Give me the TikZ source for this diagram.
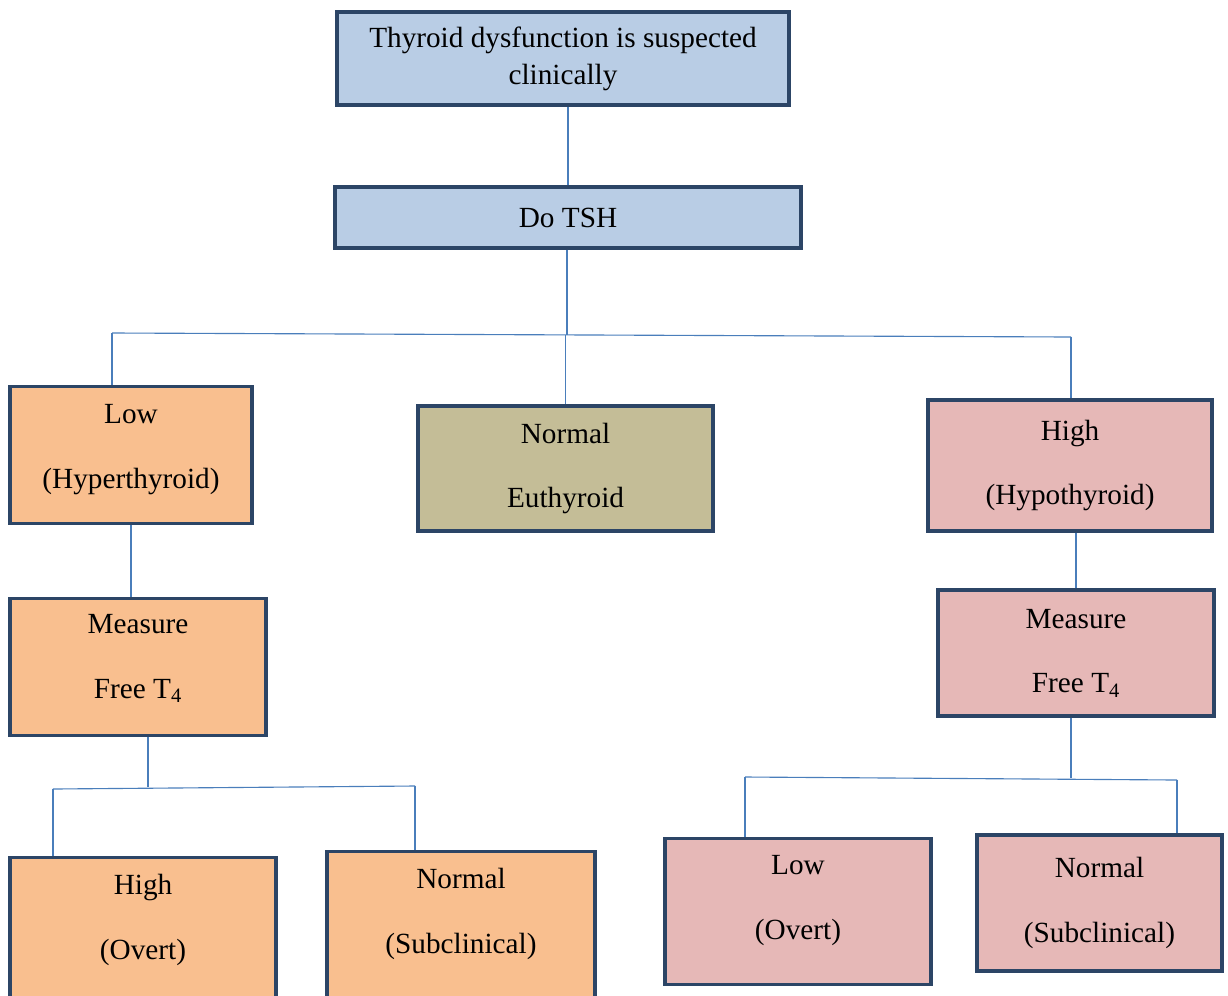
\documentclass[tikz,border=0pt]{standalone}
\usepackage{fontspec}
\setmainfont{Liberation Serif}
\usetikzlibrary{positioning}
\definecolor{boxline}{HTML}{2C4566}
\definecolor{linkline}{HTML}{4A7EBB}
\definecolor{bluefill}{HTML}{B9CDE5}
\definecolor{peachfill}{HTML}{F9BF8F}
\definecolor{olivefill}{HTML}{C4BD97}
\definecolor{pinkfill}{HTML}{E6B8B7}
\newcommand{\pxu}{0.025cm}

\begin{document}
\begin{tikzpicture}[x=0.025cm, y=-0.025cm,
    box/.style={draw=boxline, line width=2.2pt, inner sep=0pt, align=center,
        font=\fontsize{20.8}{46}\selectfont},
    dims/.style 2 args={minimum width=#1*\pxu, minimum height=#2*\pxu},
    link/.style={draw=linkline, line width=0.8pt}]
    \clip (0,0) rectangle (1228,995);

    \node[box, fill=bluefill, dims={452}{93}, font=\fontsize{20.8}{26.2}\selectfont] (top) at (563,58.5) {Thyroid dysfunction is suspected\\clinically};
    \node[box, fill=bluefill, dims={466}{61}] (tsh) at (568,217.5) {Do TSH};

    \node[box, fill=peachfill, minimum width=242*\pxu, text height=2.55cm, text depth=0.875cm, anchor=north] (low) at (131,385) {Low\\(Hyperthyroid)};
    \node[box, fill=olivefill, dims={295}{125}] (normal) at (565.5,468.5) {Normal\\Euthyroid};
    \node[box, fill=pinkfill, dims={284}{131}] (high) at (1070,465.5) {High\\(Hypothyroid)};

    \node[box, fill=peachfill, minimum width=256*\pxu, text height=2.5cm, text depth=0.925cm, anchor=north] (measL) at (138,597) {Measure\\Free T\textsubscript{4}};
    \node[box, fill=pinkfill, dims={276}{126}] (measR) at (1076,653) {Measure\\Free T\textsubscript{4}};

    \node[box, fill=peachfill, minimum width=266*\pxu, text height=2.55cm, text depth=1.3cm, anchor=north] (overtL) at (143,856) {High\\(Overt)};
    \node[box, fill=peachfill, minimum width=268*\pxu, text height=2.55cm, text depth=1.45cm, anchor=north] (normL) at (461,850) {Normal\\(Subclinical)};
    \node[box, fill=pinkfill, minimum width=266*\pxu, text height=2.525cm, text depth=1.125cm, anchor=north] (lowR) at (798,837) {Low\\(Overt)};
    \node[box, fill=pinkfill, dims={245}{136}] (normR) at (1099.5,903) {Normal\\(Subclinical)};

    \coordinate (j1) at (567,335);
    \coordinate (j1l) at (112,333);
    \coordinate (j1r) at (1071,337);
    \coordinate (j2) at (148,787);
    \coordinate (j2l) at (53,789);
    \coordinate (j2r) at (415,786);
    \coordinate (j3) at (1071,778);
    \coordinate (j3l) at (745,777);
    \coordinate (j3r) at (1177,780);

    \draw[link] (tsh.north) -- (tsh.north |- top.south);
    \draw[link] (tsh.south -| j1) -- (j1);
    \draw[link] (j1l) -- (j1r);
    \draw[link] (j1l) -- (j1l |- low.north);
    \draw[link] (j1 -| normal.north) -- (normal.north);
    \draw[link] (j1r) -- (j1r |- high.north);

    \draw[link] (low.south) -- (low.south |- measL.north);
    \draw[link] (j2 |- measL.south) -- (j2);
    \draw[link] (j2l) -- (j2r);
    \draw[link] (j2l) -- (j2l |- overtL.north);
    \draw[link] (j2r) -- (j2r |- normL.north);

    \draw[link] (measR.north) -- (measR.north |- high.south);
    \draw[link] (j3 |- measR.south) -- (j3);
    \draw[link] (j3l) -- (j3r);
    \draw[link] (j3l) -- (j3l |- lowR.north);
    \draw[link] (j3r) -- (j3r |- normR.north);
\end{tikzpicture}
\end{document}
